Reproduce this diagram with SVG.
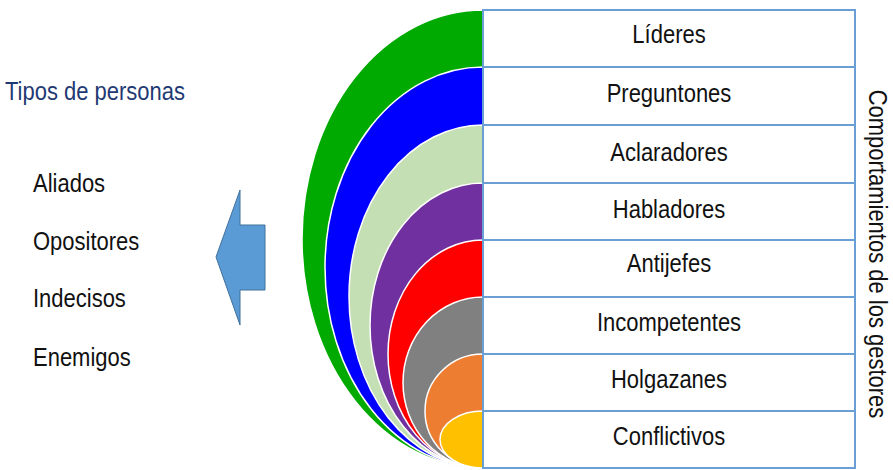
<svg xmlns="http://www.w3.org/2000/svg" width="893" height="470" viewBox="0 0 893 470">
<style>
.arc{stroke:#fff;stroke-width:1.5}
.box{fill:#fff;stroke:#6A9FD6;stroke-width:2}
.t{font-family:"Liberation Sans",Arial,sans-serif;font-size:22px;fill:#111}
.c{text-anchor:middle}
.title{fill:#1F3A73}
</style>
<rect width="893" height="470" fill="#fff"/>
<g id="arcs">
<path class="arc" fill="#00AA00" d="M483,10 A181,229 0 0 0 483,468 Z"/>
<path class="arc" fill="#0000FF" d="M483,67 A158,200.5 0 0 0 483,468 Z"/>
<path class="arc" fill="#C5DFB4" d="M483,125 A134,171.5 0 0 0 483,468 Z"/>
<path class="arc" fill="#7030A0" d="M483,183 A113,142.5 0 0 0 483,468 Z"/>
<path class="arc" fill="#FF0000" d="M483,240 A95,114 0 0 0 483,468 Z"/>
<path class="arc" fill="#808080" d="M483,297 A80,85.5 0 0 0 483,468 Z"/>
<path class="arc" fill="#ED7D31" d="M483,354 A58,57 0 0 0 483,468 Z"/>
<path class="arc" fill="#FFC000" d="M483,411 A43,28.5 0 0 0 483,468 Z"/>
</g>
<g id="n1"><rect class="box" x="483" y="10" width="372" height="57"/><text class="t c" transform="translate(669,43) scale(1,1.15)">Líderes</text></g>
<g id="n2"><rect class="box" x="483" y="67" width="372" height="58"/><text class="t c" transform="translate(669,102) scale(1,1.15)">Preguntones</text></g>
<g id="n3"><rect class="box" x="483" y="125" width="372" height="58"/><text class="t c" transform="translate(669,161) scale(1,1.15)">Aclaradores</text></g>
<g id="n4"><rect class="box" x="483" y="183" width="372" height="57"/><text class="t c" transform="translate(669,218) scale(1,1.15)">Habladores</text></g>
<g id="n5"><rect class="box" x="483" y="240" width="372" height="57"/><text class="t c" transform="translate(669,272) scale(1,1.15)">Antijefes</text></g>
<g id="n6"><rect class="box" x="483" y="297" width="372" height="57"/><text class="t c" transform="translate(669,331) scale(1,1.15)">Incompetentes</text></g>
<g id="n7"><rect class="box" x="483" y="354" width="372" height="57"/><text class="t c" transform="translate(669,388) scale(1,1.15)">Holgazanes</text></g>
<g id="n8"><rect class="box" x="483" y="411" width="372" height="57"/><text class="t c" transform="translate(669,445) scale(1,1.15)">Conflictivos</text></g>
<g id="side"><text class="t c" transform="translate(869,254) rotate(90) scale(1,1.15)">Comportamientos de los gestores</text></g>
<g id="left">
<text class="t title" transform="translate(5,100) scale(1,1.15)">Tipos de personas</text>
<text class="t" transform="translate(33,192) scale(1,1.15)">Aliados</text>
<text class="t" transform="translate(33,250) scale(1,1.15)">Opositores</text>
<text class="t" transform="translate(33,307) scale(1,1.15)">Indecisos</text>
<text class="t" transform="translate(33,366) scale(1,1.15)">Enemigos</text>
</g>
<g id="connectors">
<path d="M216,257 L240,190 L240,225 L265,225 L265,290 L240,290 L240,325 Z" fill="#5B9BD5" stroke="#41719C" stroke-width="1"/>
</g>
</svg>
